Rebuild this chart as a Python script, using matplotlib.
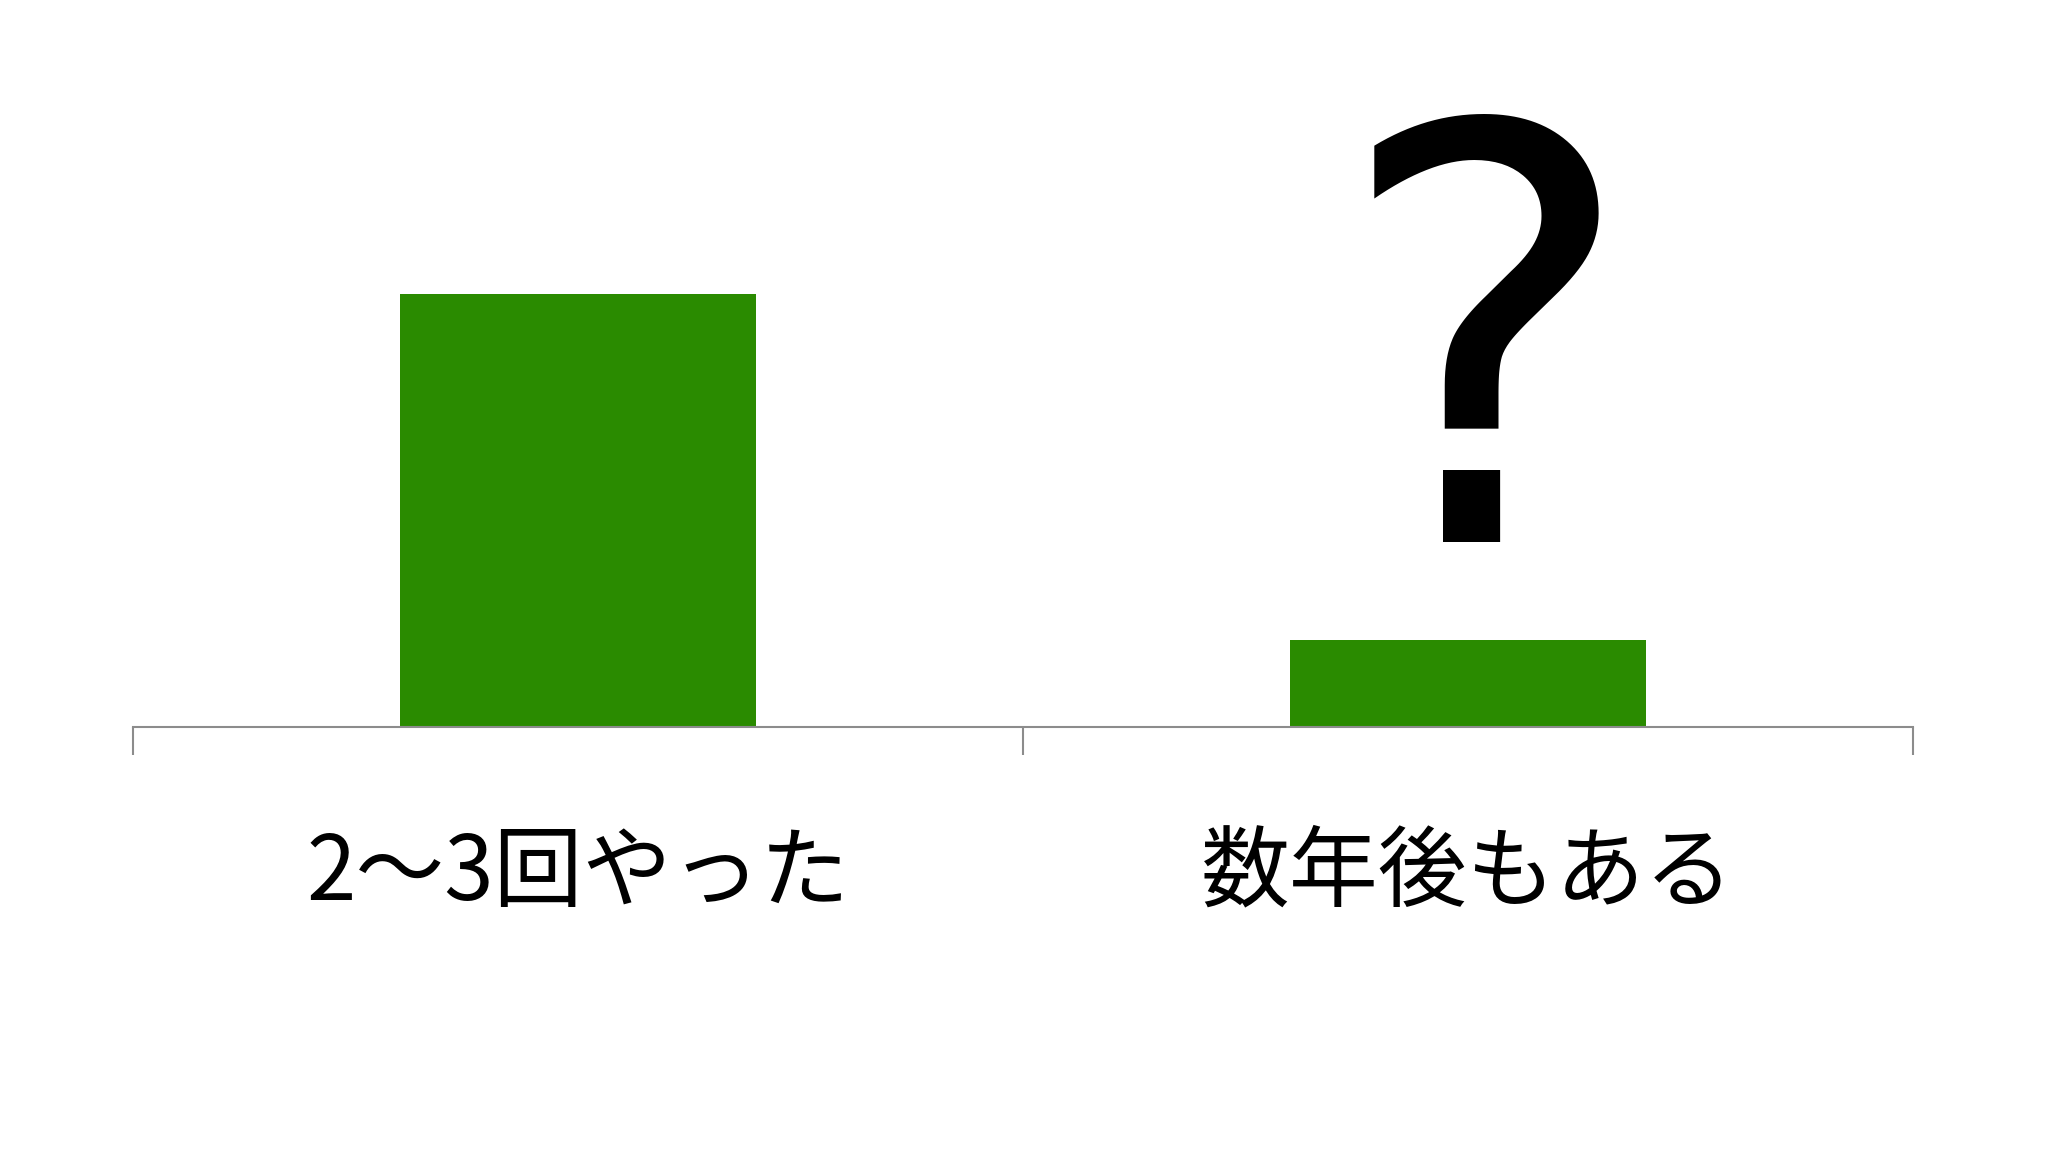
import matplotlib.pyplot as plt
import numpy as np

plt.rcParams['font.family'] = ['Noto Sans CJK JP', 'DejaVu Sans']

# Dades
categories = ['2〜3回やった', '数年後もある']
values = [5, 1]
bar_color = '#2a8b00'

fig = plt.figure(figsize=(20.48, 11.52), dpi=100)
ax = fig.add_axes([0.0649, 0.3689, 0.8691, 0.4514])

x = np.arange(len(categories))
ax.bar(x, values, width=0.4, color=bar_color, zorder=2)

ax.set_xlim(-0.5, len(categories) - 0.5)
ax.set_ylim(0, 6)

for s in ['top', 'left', 'right']:
    ax.spines[s].set_visible(False)
ax.spines['bottom'].set_color('#8c8c8c')
ax.spines['bottom'].set_linewidth(1.5)
ax.set_yticks([])

# separadors de categoria i etiquetes
ax.set_xticks(np.arange(-0.5, len(categories)))
ax.set_xticklabels([])
ax.tick_params(axis='x', which='major', length=20, width=1.5, color='#8c8c8c', direction='out')
ax.set_xticks(x, minor=True)
ax.tick_params(axis='x', which='minor', length=0, pad=73)
ax.set_xticklabels(categories, minor=True, fontsize=64)

# signe d'interrogació sobre la segona barra
ax.text(x[1] + 0.02, 2.13, '?', fontsize=415, family='DejaVu Sans',
        ha='center', va='baseline', color='black')

fig.savefig('out.png', dpi=100)
